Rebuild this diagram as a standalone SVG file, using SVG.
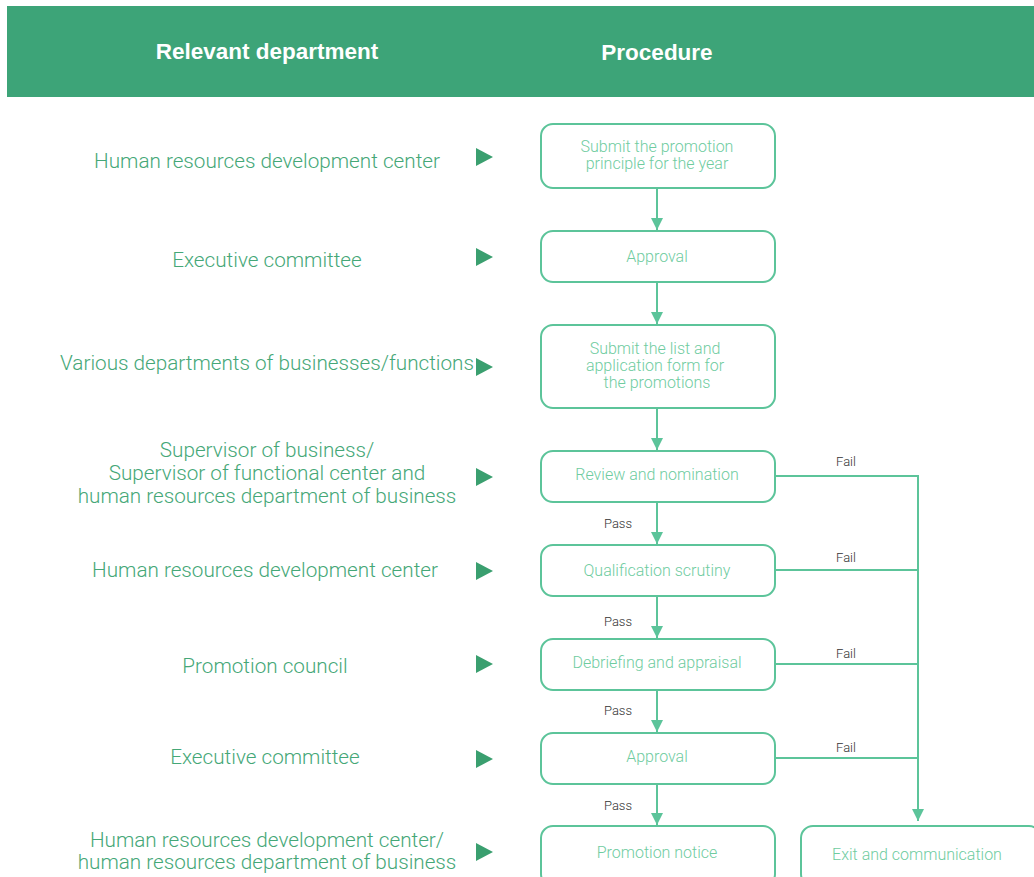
<svg xmlns="http://www.w3.org/2000/svg" width="1034" height="877" viewBox="0 0 1034 877">
  <defs>
    <marker id="arrow" markerWidth="12" markerHeight="16" refX="12" refY="6" orient="auto" markerUnits="userSpaceOnUse">
      <path d="M0,0 L12,6 L0,12 Z" fill="#5cc49a"/>
    </marker>
    <style>
      .hdr { font-family: "Liberation Sans", Arial, sans-serif; font-weight: bold; font-size: 22.5px; fill: #ffffff; text-anchor: middle; }
      .dept { font-family: Roboto, "Liberation Sans", sans-serif; font-weight: 300; font-size: 20.7px; fill: #45a777; text-anchor: middle; }
      .tri { fill: #3a9f6f; }
      .box { fill: #ffffff; stroke: #5cc49a; stroke-width: 2; }
      .btxt { font-family: Roboto, "Liberation Sans", sans-serif; font-weight: 300; font-size: 16px; fill: #6fcc9f; text-anchor: middle; }
      .lbl { font-family: Roboto, "Liberation Sans", sans-serif; font-weight: 300; font-size: 13px; fill: #333333; text-anchor: middle; }
      .wire { fill: none; stroke: #5cc49a; stroke-width: 2; }
    </style>
  </defs>

  <rect width="1034" height="877" fill="#ffffff"/>

  <!-- header band -->
  <g id="header">
    <rect x="7" y="6" width="1027" height="91" fill="#3da478"/>
    <text class="hdr" x="267" y="59">Relevant department</text>
    <text class="hdr" x="657" y="60">Procedure</text>
  </g>

  <!-- department column -->
  <g id="departments">
    <text class="dept" x="267" y="168">Human resources development center</text>
    <text class="dept" x="267" y="267">Executive committee</text>
    <text class="dept" x="267" y="370">Various departments of businesses/functions</text>
    <text class="dept" x="267" y="457">Supervisor of business/</text>
    <text class="dept" x="267" y="480">Supervisor of functional center and</text>
    <text class="dept" x="267" y="503">human resources department of business</text>
    <text class="dept" x="265" y="577">Human resources development center</text>
    <text class="dept" x="265" y="673">Promotion council</text>
    <text class="dept" x="265" y="764">Executive committee</text>
    <text class="dept" x="267" y="847">Human resources development center/</text>
    <text class="dept" x="267" y="869">human resources department of business</text>
  </g>

  <g id="pointers">
    <path class="tri" d="M476,148 L493,157 L476,166 Z"/>
    <path class="tri" d="M476,248 L493,257 L476,266 Z"/>
    <path class="tri" d="M476,358 L493,367 L476,376 Z"/>
    <path class="tri" d="M476,468 L493,477 L476,486 Z"/>
    <path class="tri" d="M476,562 L493,571 L476,580 Z"/>
    <path class="tri" d="M476,655 L493,664 L476,673 Z"/>
    <path class="tri" d="M476,750 L493,759 L476,768 Z"/>
    <path class="tri" d="M476,843 L493,852 L476,861 Z"/>
  </g>

  <!-- connectors -->
  <g id="connectors">
    <line class="wire" x1="657" y1="189" x2="657" y2="230" marker-end="url(#arrow)"/>
    <line class="wire" x1="657" y1="283" x2="657" y2="324" marker-end="url(#arrow)"/>
    <line class="wire" x1="657" y1="409" x2="657" y2="450" marker-end="url(#arrow)"/>
    <line class="wire" x1="657" y1="503" x2="657" y2="544" marker-end="url(#arrow)"/>
    <line class="wire" x1="657" y1="597" x2="657" y2="638" marker-end="url(#arrow)"/>
    <line class="wire" x1="657" y1="691" x2="657" y2="732" marker-end="url(#arrow)"/>
    <line class="wire" x1="657" y1="785" x2="657" y2="825" marker-end="url(#arrow)"/>

    <polyline class="wire" points="775,476 918,476 918,821" marker-end="url(#arrow)"/>
    <line class="wire" x1="775" y1="570" x2="918" y2="570"/>
    <line class="wire" x1="775" y1="664" x2="918" y2="664"/>
    <line class="wire" x1="775" y1="758" x2="918" y2="758"/>

    <text class="lbl" x="846" y="466">Fail</text>
    <text class="lbl" x="846" y="562">Fail</text>
    <text class="lbl" x="846" y="658">Fail</text>
    <text class="lbl" x="846" y="752">Fail</text>
    <text class="lbl" x="618" y="528">Pass</text>
    <text class="lbl" x="618" y="626">Pass</text>
    <text class="lbl" x="618" y="715">Pass</text>
    <text class="lbl" x="618" y="810">Pass</text>
  </g>

  <!-- procedure steps -->
  <g id="step-submit-principle">
    <rect class="box" x="541" y="124" width="234" height="64" rx="12"/>
    <text class="btxt" x="657" y="152">Submit the promotion</text>
    <text class="btxt" x="657" y="169">principle for the year</text>
  </g>
  <g id="step-approval-1">
    <rect class="box" x="541" y="231" width="234" height="51" rx="12"/>
    <text class="btxt" x="657" y="262">Approval</text>
  </g>
  <g id="step-submit-list">
    <rect class="box" x="541" y="325" width="234" height="83" rx="12"/>
    <text class="btxt" x="655" y="354">Submit the list and</text>
    <text class="btxt" x="655" y="371">application form for</text>
    <text class="btxt" x="657" y="388">the promotions</text>
  </g>
  <g id="step-review">
    <rect class="box" x="541" y="451" width="234" height="51" rx="12"/>
    <text class="btxt" x="657" y="480">Review and nomination</text>
  </g>
  <g id="step-qualification">
    <rect class="box" x="541" y="545" width="234" height="51" rx="12"/>
    <text class="btxt" x="657" y="576">Qualification scrutiny</text>
  </g>
  <g id="step-debriefing">
    <rect class="box" x="541" y="639" width="234" height="51" rx="12"/>
    <text class="btxt" x="657" y="668">Debriefing and appraisal</text>
  </g>
  <g id="step-approval-2">
    <rect class="box" x="541" y="733" width="234" height="51" rx="12"/>
    <text class="btxt" x="657" y="762">Approval</text>
  </g>
  <g id="step-promotion-notice">
    <rect class="box" x="541" y="826" width="234" height="60" rx="12"/>
    <text class="btxt" x="657" y="858">Promotion notice</text>
  </g>
  <g id="step-exit">
    <rect class="box" x="801" y="826" width="240" height="60" rx="12"/>
    <text class="btxt" x="917" y="860">Exit and communication</text>
  </g>
</svg>
